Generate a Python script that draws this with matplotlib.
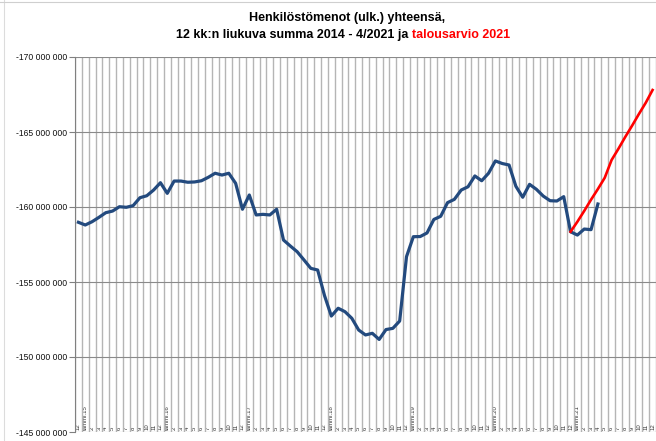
import matplotlib
matplotlib.use('Agg')
import numpy as np
import matplotlib.pyplot as plt
from matplotlib.ticker import FuncFormatter
from matplotlib.lines import Line2D

plt.rcParams['font.family'] = ['Liberation Sans', 'DejaVu Sans']

# ---- data -------------------------------------------------------------
year_labels = ['tammi.15', 'tammi.16', 'tammi.17', 'tammi.18',
               'tammi.19', 'tammi.20', 'tammi.21']
other_months = ['2', '3', '4', '5', '6', '7', '8', '9', '10', '11', '12']
month_labels = ['12']
for yl in year_labels:
    month_labels += [yl] + other_months

# 12-month rolling sum (millions of euros), 12/2014 .. 4/2021
actual_m = [
    -158.98, -158.80, -159.02, -159.31, -159.62, -159.73, -160.02, -159.98,
    -160.09, -160.62, -160.75, -161.13, -161.62, -160.91, -161.73, -161.73,
    -161.65, -161.67, -161.75, -161.98, -162.25, -162.13, -162.25, -161.58,
    -159.85, -160.80, -159.47, -159.51, -159.47, -159.85, -157.80, -157.40,
    -157.02, -156.47, -155.91, -155.80, -154.10, -152.73, -153.25, -153.02,
    -152.58, -151.80, -151.47, -151.58, -151.17, -151.83, -151.91, -152.40,
    -156.69, -158.02, -158.03, -158.27, -159.17, -159.38, -160.29, -160.51,
    -161.13, -161.35, -162.07, -161.75, -162.25, -163.07, -162.90, -162.80,
    -161.38, -160.65, -161.51, -161.18, -160.73, -160.42, -160.40, -160.69,
    -158.35, -158.13, -158.53, -158.49, -160.20,
]
# budget 2021 path, 12/2020 .. 12/2021
budget_m = [
    -158.35, -159.02, -159.74, -160.49, -161.20, -161.95, -163.13,
    -163.88, -164.67, -165.42, -166.20, -166.95, -167.80,
]
budget_start = 72
y_ticks_m = [-170, -165, -160, -155, -150, -145]

# ---- figure -----------------------------------------------------------
W, H = 656, 441
fig = plt.figure(figsize=(W / 100, H / 100), dpi=100)
fig.patch.set_facecolor('white')
ax = fig.add_axes([75 / W, 9 / H, 581 / W, 375 / H])

n = len(month_labels)
x_act = np.arange(len(actual_m))
x_bud = np.arange(budget_start, budget_start + len(budget_m))

ax.plot(x_act, np.array(actual_m) * 1e6, color='#234a7e', lw=2.3,
        solid_joinstyle='round', zorder=3)
ax.plot(x_bud, np.array(budget_m) * 1e6, color='#ff0000', lw=1.9, zorder=4)

ax.set_xlim(-0.5, n - 0.5)
ax.set_ylim(-145e6, -170e6)

ax.set_yticks(np.array(y_ticks_m) * 1e6)
ax.yaxis.set_major_formatter(
    FuncFormatter(lambda v, p: f"{v:,.0f}".replace(',', ' ')))
ax.tick_params(axis='y', length=4.3, width=0.8, color='#808080',
               labelsize=6.2, pad=1.5, labelcolor='#111111')
ax.yaxis.grid(True, color='#8a8a8a', lw=0.8)

ax.set_xticks(np.arange(n))
ax.set_xticklabels(month_labels, rotation=90, fontsize=4.3, color='#333333')
for lab in ax.get_xticklabels():
    lab.set_va('bottom')
ax.tick_params(axis='x', which='major', length=0, pad=-1.5)
ax.set_xticks(np.arange(-0.5, n, 1.0), minor=True)
ax.tick_params(axis='x', which='minor', length=0)
ax.xaxis.grid(True, which='minor', color='#b5b5b5', lw=1.0)
ax.xaxis.grid(False, which='major')
ax.set_axisbelow(True)

for s in ['top', 'right', 'bottom']:
    ax.spines[s].set_visible(False)
ax.spines['left'].set_color('#808080')
ax.spines['left'].set_linewidth(0.8)

# ---- title ------------------------------------------------------------
TFS = 9.0
fig.text(347 / W, 1 - 18 / H, 'Henkilöstömenot (ulk.) yhteensä,',
         ha='center', va='center', fontsize=TFS, weight='bold')
black_part = '12 kk:n liukuva summa 2014 - 4/2021 ja'
red_part = 'talousarvio 2021'
y2 = 1 - 35 / H
t1 = fig.text(0, y2, black_part, ha='left', va='center', fontsize=TFS,
              weight='bold', color='black')
t2 = fig.text(0, y2, red_part, ha='left', va='center', fontsize=TFS,
              weight='bold', color='#ff0000')
r = fig.canvas.get_renderer()
ta = fig.text(0, 0, 'xx', fontsize=TFS, weight='bold')
tb = fig.text(0, 0, 'x x', fontsize=TFS, weight='bold')
sp = tb.get_window_extent(r).width - ta.get_window_extent(r).width
ta.remove(); tb.remove()
w1 = t1.get_window_extent(r).width
w2 = t2.get_window_extent(r).width
left = 343 - (w1 + sp + w2) / 2
t1.set_x(left / W)
t2.set_x((left + w1 + sp) / W)

# faint sheet borders from the screenshot
fig.add_artist(Line2D([4 / W, 4 / W], [0, 1], color='#dcdcdc', lw=0.8))
fig.add_artist(Line2D([0, 1], [1 - 2 / H, 1 - 2 / H], color='#cfcfcf', lw=0.8))

fig.savefig('out.png', dpi=100)
